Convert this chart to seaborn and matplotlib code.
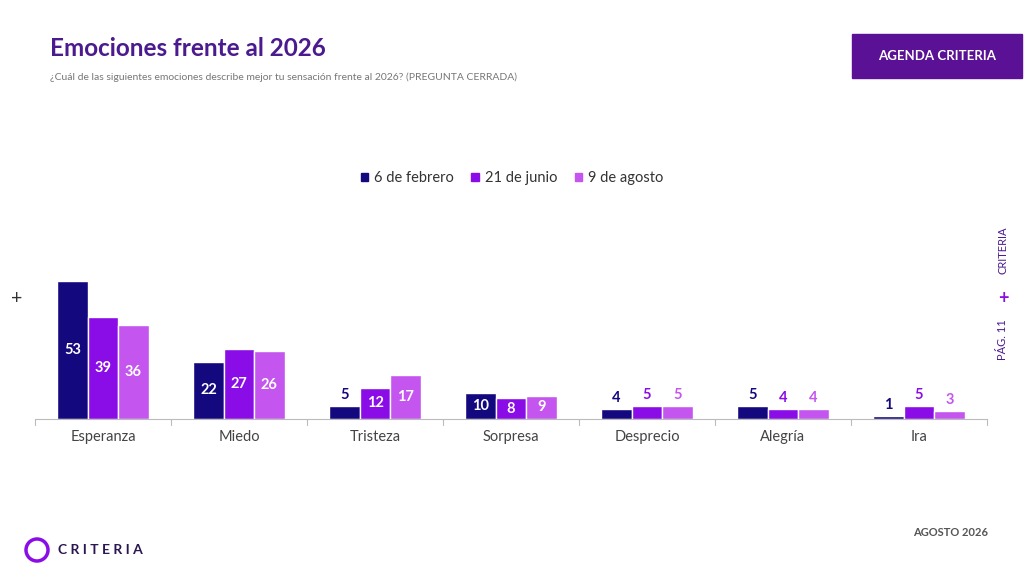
import matplotlib
matplotlib.use("Agg")
import matplotlib.pyplot as plt
import seaborn as sns
import pandas as pd
from matplotlib.patches import Rectangle, Ellipse

categories = ["Esperanza", "Miedo", "Tristeza", "Sorpresa", "Desprecio", "Alegría", "Ira"]
series = ["6 de febrero", "21 de junio", "9 de agosto"]
feb = [53, 22, 5, 10, 4, 5, 1]
jun = [39, 27, 12, 8, 5, 4, 5]
ago = [36, 26, 17, 9, 5, 4, 3]
colors = ["#14087E", "#8A0CE6", "#C455EE"]

rows = []
for s, vals in zip(series, [feb, jun, ago]):
    for c, v in zip(categories, vals):
        rows.append({"cat": c, "serie": s, "val": v})
df = pd.DataFrame(rows)

sns.set_style("white")
plt.rcParams['font.family'] = ['Lato', 'DejaVu Sans']
fig = plt.figure(figsize=(10.24, 5.69), dpi=100)
fig.patch.set_facecolor("white")
ax = fig.add_axes([35/1024, 150/569, 952/1024, 219/569])
sns.barplot(data=df, x="cat", y="val", hue="serie", palette=colors, ax=ax,
            width=0.67, legend=False, saturation=1)
ax.set_ylim(0, 84)
ax.set_xlim(-0.5, 6.5)
ax.set_xlabel(""); ax.set_ylabel("")
ax.set_yticks([])
for sp in ["top", "right", "left"]:
    ax.spines[sp].set_visible(False)
ax.spines["bottom"].set_color("#BBBBBB")
ax.set_xticks(range(7))
ax.set_xticklabels(categories, fontsize=10.5, color="#444444")
ax.tick_params(axis="x", length=0, pad=8)
for i in range(8):
    ax.plot([i-0.5, i-0.5], [0, -2.2], color="#BBBBBB", lw=0.8, clip_on=False)

for ci, cont in enumerate(ax.containers):
    for bar in cont:
        h = bar.get_height()
        x = bar.get_x() + bar.get_width()/2
        if h >= 8:
            ax.text(x, h/2, f"{int(h)}", ha="center", va="center", color="white",
                    fontsize=10.5, fontweight="bold")
        else:
            ax.text(x, h + 1.5, f"{int(h)}", ha="center", va="bottom", color=colors[ci],
                    fontsize=10.5, fontweight="bold")

handles = [Rectangle((0, 0), 1, 1, color=c) for c in colors]
fig.legend(handles, series, loc="center", bbox_to_anchor=(0.5, 1-178/569), ncol=3,
           frameon=False, fontsize=10.5, handlelength=0.5, handleheight=0.5,
           handletextpad=0.4, columnspacing=1.2, labelcolor="#333333")

fig.text(50/1024, 1-48/569, "Emociones frente al 2026", fontsize=17.5, fontweight="bold",
         color="#4B1A8F", va="center")
fig.text(50/1024, 1-77/569, "¿Cuál de las siguientes emociones describe mejor tu sensación frente al 2026? (PREGUNTA CERRADA)",
         fontsize=7.5, color="#777777", va="center")
fig.patches.append(Rectangle((852/1024, 1-78/569), 170/1024, 44/569, transform=fig.transFigure,
                             color="#5A1196", figure=fig))
fig.text(937/1024, 1-56/569, "AGENDA CRITERIA", fontsize=9.5, fontweight="bold", color="white",
         ha="center", va="center")
fig.text(17/1024, 1-298/569, "+", fontsize=14, color="#333333", ha="center", va="center")
fig.text(1003/1024, 1-250/569, "CRITERIA", fontsize=8, color="#4B1A8F", rotation=90, ha="center", va="center")
fig.text(1003/1024, 1-298/569, "+", fontsize=13, color="#8A0CE6", ha="center", va="center", fontweight="bold")
fig.text(1003/1024, 1-340/569, "PÁG. 11", fontsize=8, color="#4B1A8F", rotation=90, ha="center", va="center")
fig.text(988/1024, 1-532/569, "AGOSTO 2026", fontsize=8, fontweight="bold", color="#555555", ha="right", va="center")
fig.text(58/1024, 1-550/569, "C R I T E R I A", fontsize=10, fontweight="bold", color="#2A1650", va="center")
fig.patches.append(Ellipse((37/1024, 1-550/569), 22/1024, 22/569, transform=fig.transFigure,
                           fill=False, lw=2.5, ec="#8A0CE6", figure=fig))
fig.savefig("out.png", dpi=100)
